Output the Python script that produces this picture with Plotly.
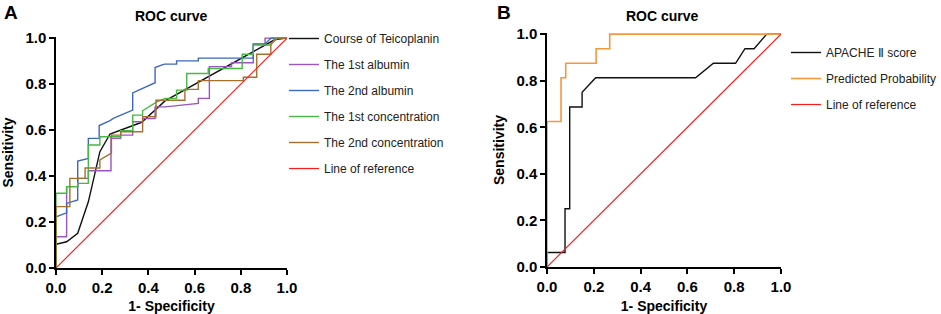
import plotly.graph_objects as go

# ---------------- data ----------------
tick_vals = [0.0, 0.2, 0.4, 0.6, 0.8, 1.0]
tick_text = ["0.0", "0.2", "0.4", "0.6", "0.8", "1.0"]

# Panel A
teico_x = [0, 0, 0.046, 0.094, 0.14, 0.19, 0.234, 0.371, 0.472, 0.948, 1.0]
teico_y = [0, 0.103, 0.114, 0.151, 0.288, 0.506, 0.583, 0.634, 0.727, 0.994, 1.0]

alb1_x = [0, 0, 0.046, 0.046, 0.094, 0.094, 0.14, 0.14, 0.238, 0.238, 0.28, 0.28, 0.332, 0.332,
          0.375, 0.375, 0.429, 0.429, 0.472, 0.616, 0.616, 0.664, 0.664, 0.76, 0.76, 0.854, 0.854,
          0.905, 0.905, 1.0]
alb1_y = [0, 0.136, 0.136, 0.354, 0.354, 0.39, 0.39, 0.423, 0.423, 0.564, 0.564, 0.578, 0.578, 0.636,
          0.636, 0.65, 0.65, 0.701, 0.701, 0.716, 0.738, 0.738, 0.876, 0.876, 0.893, 0.893, 0.973,
          0.973, 1.0, 1.0]

alb2_x = [0, 0, 0.046, 0.046, 0.094, 0.094, 0.14, 0.14, 0.187, 0.187, 0.234, 0.248, 0.332, 0.332,
          0.429, 0.429, 0.465, 0.472, 0.522, 0.522, 0.616, 0.616, 0.854, 0.854, 0.905, 0.93, 1.0]
alb2_y = [0, 0.223, 0.24, 0.281, 0.296, 0.465, 0.477, 0.564, 0.564, 0.62, 0.641, 0.651, 0.687, 0.762,
          0.806, 0.872, 0.886, 0.887, 0.887, 0.901, 0.901, 0.913, 0.913, 0.975, 0.975, 1.0, 1.0]

conc1_x = [0, 0, 0.046, 0.046, 0.094, 0.094, 0.14, 0.14, 0.19, 0.19, 0.28, 0.28, 0.332, 0.332,
           0.375, 0.375, 0.436, 0.472, 0.522, 0.522, 0.566, 0.566, 0.659, 0.659, 0.806, 0.806,
           0.854, 0.854, 0.93, 0.95, 1.0]
conc1_y = [0, 0.325, 0.325, 0.354, 0.354, 0.368, 0.368, 0.535, 0.535, 0.571, 0.571, 0.597, 0.597,
           0.665, 0.665, 0.684, 0.723, 0.738, 0.738, 0.774, 0.774, 0.846, 0.846, 0.868, 0.868, 0.93,
           0.93, 0.97, 0.97, 1.0, 1.0]

conc2_x = [0, 0, 0.06, 0.06, 0.126, 0.126, 0.19, 0.19, 0.24, 0.24, 0.28, 0.28, 0.375, 0.375, 0.433,
           0.433, 0.558, 0.558, 0.616, 0.616, 0.811, 0.811, 0.869, 0.869, 0.93, 0.93, 0.96, 1.0]
conc2_y = [0, 0.267, 0.267, 0.39, 0.39, 0.435, 0.435, 0.47, 0.5, 0.578, 0.578, 0.593, 0.593, 0.658,
           0.658, 0.73, 0.73, 0.777, 0.777, 0.815, 0.815, 0.83, 0.83, 0.93, 0.93, 0.975, 1.0, 1.0]

ref_x = [0, 1]
ref_y = [0, 1]

# Panel B
apache_x = [0, 0, 0.077, 0.077, 0.097, 0.097, 0.15, 0.15, 0.208, 0.635, 0.711, 0.806, 0.846, 0.885,
            0.939, 1.0]
apache_y = [0, 0.0625, 0.0625, 0.25, 0.25, 0.6875, 0.6875, 0.75, 0.8125, 0.8125, 0.875, 0.875,
            0.9375, 0.9375, 1.0, 1.0]

prob_x = [0, 0, 0.06, 0.06, 0.08, 0.08, 0.21, 0.21, 0.268, 0.268, 1.0]
prob_y = [0, 0.625, 0.625, 0.8125, 0.8125, 0.875, 0.875, 0.9375, 0.9375, 1.0, 1.0]

# ---------------- figure ----------------
W, H = 941, 314
FONT = "Arial, Liberation Sans, sans-serif"

fig = go.Figure()

def add(x, y, name, color, xa, ya, legend, width=1.4):
    fig.add_trace(go.Scatter(
        x=x, y=y, mode="lines", name=name, xaxis=xa, yaxis=ya, legend=legend,
        legendgroup=name + xa, line=dict(color=color, width=width), hoverinfo="skip"))

add(teico_x, teico_y, "Course of Teicoplanin", "#111111", "x", "y", "legend")
add(alb1_x, alb1_y, "The 1st albumin", "#9b55c0", "x", "y", "legend")
add(alb2_x, alb2_y, "The 2nd albumin", "#3d68c0", "x", "y", "legend")
add(conc1_x, conc1_y, "The 1st concentration", "#46b843", "x", "y", "legend")
add(conc2_x, conc2_y, "The 2nd concentration", "#a5702e", "x", "y", "legend")
add(ref_x, ref_y, "Line of reference", "#ff1a1a", "x", "y", "legend", 1.2)

add(apache_x, apache_y, "APACHE \u2161 score", "#111111", "x2", "y2", "legend2")
add(prob_x, prob_y, "Predicted Probability", "#f7963a", "x2", "y2", "legend2", 1.6)
add(ref_x, ref_y, "Line of reference", "#ff1a1a", "x2", "y2", "legend2", 1.2)

axis_common = dict(
    range=[0, 1], tickvals=tick_vals, ticktext=tick_text, automargin=False,
    showline=True, linecolor="black", linewidth=1.5, mirror=False,
    ticks="outside", ticklen=5, tickwidth=1.5, tickcolor="black",
    showgrid=False, zeroline=False,
    tickfont=dict(family=FONT, size=15, color="black", weight="bold"),
)

def xdom(l, r):
    return [l / W, r / W]

def ydom(b, t):
    return [(H - b) / H, (H - t) / H]

title_font = dict(family=FONT, size=14, weight="bold", color="black")

fig.update_layout(
    width=W, height=H,
    margin=dict(l=0, r=0, t=0, b=0, autoexpand=False),
    paper_bgcolor="white", plot_bgcolor="white",
    font=dict(family=FONT, color="black"),
    xaxis=dict(axis_common, domain=xdom(56, 287), anchor="y",
               title=dict(text="1- Specificity", standoff=12, font=title_font)),
    yaxis=dict(axis_common, domain=ydom(268, 37), anchor="x", range=[0, 1.005],
               title=dict(text="Sensitivity", standoff=8, font=title_font)),
    xaxis2=dict(axis_common, domain=xdom(547, 781), anchor="y2",
                title=dict(text="1- Specificity", standoff=12, font=title_font)),
    yaxis2=dict(axis_common, domain=ydom(267, 33), anchor="x2", range=[0, 1.005],
                title=dict(text="Sensitivity", standoff=8, font=title_font)),
    legend=dict(x=284 / W, y=1 - 24 / H, xanchor="left", yanchor="top",
                font=dict(family=FONT, size=12, color="#222222"),
                tracegroupgap=7, bgcolor="rgba(0,0,0,0)"),
    legend2=dict(x=786 / W, y=1 - 38 / H, xanchor="left", yanchor="top",
                 font=dict(family=FONT, size=12, color="#222222"),
                 tracegroupgap=7, bgcolor="rgba(0,0,0,0)"),
    showlegend=True,
)

annots = [
    dict(text="ROC curve", x=171 / W, y=1 - 16 / H),
    dict(text="ROC curve", x=662 / W, y=1 - 16 / H),
]
for a in annots:
    fig.add_annotation(xref="paper", yref="paper", x=a["x"], y=a["y"], text=a["text"],
                       showarrow=False, xanchor="center", yanchor="middle", font=title_font)
for lbl, px in [("A", 2), ("B", 495)]:
    fig.add_annotation(xref="paper", yref="paper", x=px / W, y=1 - 13 / H, text=lbl,
                       showarrow=False, xanchor="left", yanchor="middle",
                       font=dict(family=FONT, size=19, weight="bold", color="black"))

fig.write_html(
    "out.html",
    config={"displayModeBar": False},
    post_script="document.body.style.margin='0';document.body.style.padding='0';",
)
